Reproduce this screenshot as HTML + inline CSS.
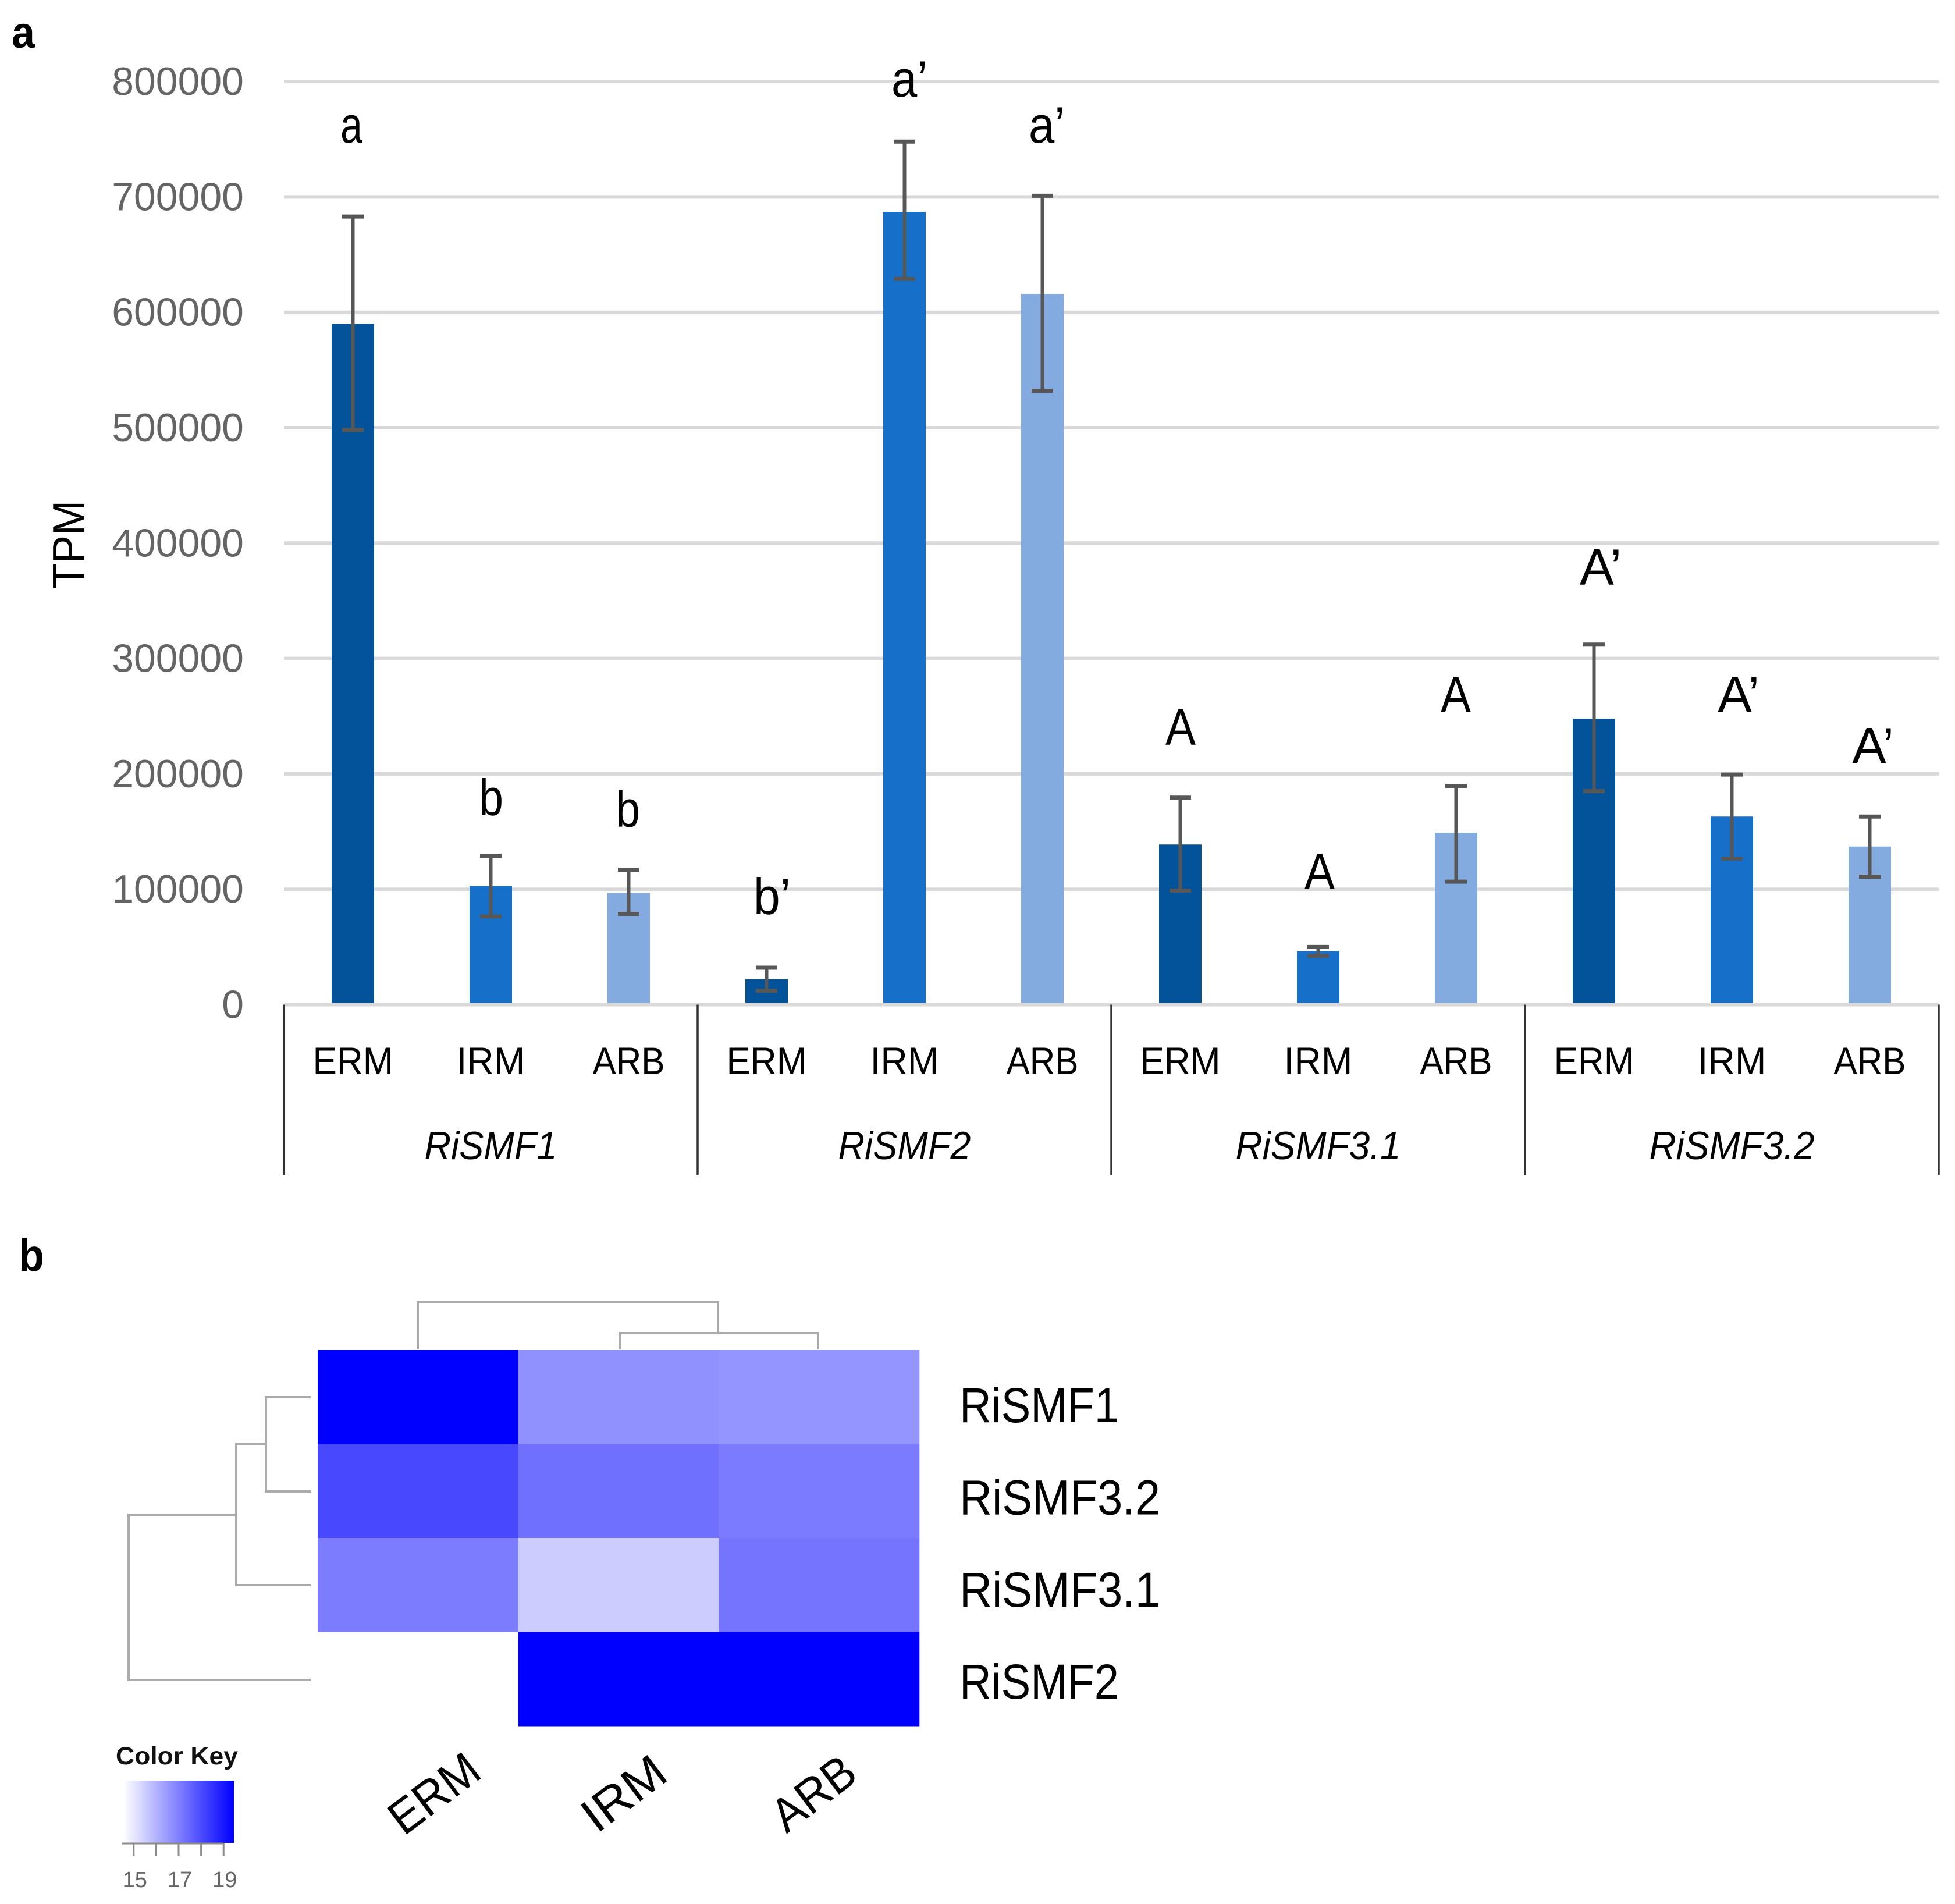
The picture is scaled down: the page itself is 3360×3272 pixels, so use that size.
<!DOCTYPE html>
<html lang="en">
<head>
<meta charset="utf-8">
<title>RiSMF expression bar chart and heatmap</title>
<style>
html,body{margin:0;padding:0;background:#fff;}
svg{display:block;}
text{font-family:"Liberation Sans",sans-serif;}
</style>
</head>
<body>
<svg id="figure" xmlns="http://www.w3.org/2000/svg" width="3360" height="3272" viewBox="0 0 3360 3272">
  <rect width="3360" height="3272" fill="#fff"/>
  <text x="20" y="82" font-size="76" font-weight="bold" fill="#000" textLength="40" lengthAdjust="spacingAndGlyphs">a</text>
  <text x="32" y="2184" font-size="78" font-weight="bold" fill="#000" textLength="44" lengthAdjust="spacingAndGlyphs">b</text>
  <g id="grid"></g>
  <g id="bars"></g>
  <g id="xaxis"></g>
  <g id="yaxis"></g>
  <text transform="translate(145,1012) rotate(-90)" font-size="78" fill="#000" textLength="152" lengthAdjust="spacingAndGlyphs">TPM</text>

  <g font-size="88" fill="#000">
    <text x="585" y="245" textLength="38" lengthAdjust="spacingAndGlyphs">a</text>
    <text x="823" y="1401" textLength="42" lengthAdjust="spacingAndGlyphs">b</text>
    <text x="1058" y="1421" textLength="42" lengthAdjust="spacingAndGlyphs">b</text>
    <text x="1295" y="1571" textLength="64" lengthAdjust="spacingAndGlyphs">b’</text>
    <text x="1532" y="166" textLength="62" lengthAdjust="spacingAndGlyphs">a’</text>
    <text x="1768" y="245" textLength="62" lengthAdjust="spacingAndGlyphs">a’</text>
    <text x="2003" y="1280" textLength="52" lengthAdjust="spacingAndGlyphs">A</text>
    <text x="2242" y="1528" textLength="52" lengthAdjust="spacingAndGlyphs">A</text>
    <text x="2476" y="1224" textLength="52" lengthAdjust="spacingAndGlyphs">A</text>
    <text x="2715" y="1005" textLength="72" lengthAdjust="spacingAndGlyphs">A’</text>
    <text x="2952" y="1224" textLength="72" lengthAdjust="spacingAndGlyphs">A’</text>
    <text x="3183" y="1312" textLength="72" lengthAdjust="spacingAndGlyphs">A’</text>
  </g>

  <g id="heatmap"></g>

  <g fill="none" stroke="#ababab" stroke-width="4">
    <path d="M534 2401H457V2563H534"/>
    <path d="M457 2481H406V2724H534"/>
    <path d="M406 2603H221V2887H534"/>
  </g>
  <g fill="none" stroke="#ababab" stroke-width="4">
    <path d="M718 2319V2238H1234V2291"/>
    <path d="M1065 2319V2291H1406V2319"/>
  </g>

  <defs>
    <linearGradient id="keyGradient" x1="0" x2="1" y1="0" y2="0">
      <stop offset="0" stop-color="#fff"/>
      <stop offset="1" stop-color="#00f"/>
    </linearGradient>
  </defs>
  <g id="colorKey">
    <text x="199" y="3032" font-size="43" font-weight="bold" fill="#111" textLength="210" lengthAdjust="spacingAndGlyphs">Color Key</text>
    <rect x="212" y="3060" width="190" height="107" fill="url(#keyGradient)"/>
  </g>
</svg>

<script>
// ---- Panel a data (TPM) ----
var groups = ['RiSMF1', 'RiSMF2', 'RiSMF3.1', 'RiSMF3.2'];
var tissues = ['ERM', 'IRM', 'ARB'];
var yTicks = [0, 100000, 200000, 300000, 400000, 500000, 600000, 700000, 800000];
var means = [590000, 102800, 96800, 22000, 687000, 616000, 138800, 46300, 149000, 247800, 163000, 137000];
var errorHigh = [683000, 129000, 117000, 32000, 748000, 701000, 179400, 50000, 189400, 312000, 199400, 163000];
var errorLow = [498000, 76500, 78700, 12000, 629000, 532000, 98800, 42200, 106600, 185000, 126500, 110800];

// ---- Panel b data (log2 expression) ----
var heatRows = ['RiSMF1', 'RiSMF3.2', 'RiSMF3.1', 'RiSMF2'];
var heatCols = ['ERM', 'IRM', 'ARB'];
var heatRow1 = [19.46, 16.68, 16.58];
var heatRow2 = [18.07, 17.30, 17.09];
var heatRow3 = [17.07, 15.52, 17.22];
var heatRow4 = [14.54, 19.46, 19.46];
var keyTicks = [15, 16, 17, 18, 19];
var keyLabels = [15, 17, 19];

var NS = 'http://www.w3.org/2000/svg';
function mk(parent, tag, attrs, txt) {
  var e = document.createElementNS(NS, tag);
  for (var k in attrs) e.setAttribute(k, attrs[k]);
  if (txt !== undefined) e.textContent = txt;
  parent.appendChild(e);
  return e;
}
function slug(s) { return String(s).toLowerCase().replace(/[^a-z0-9]+/g, '-'); }

// Axis functions
var plotLeft = 488, plotRight = 3332, y0 = 1726.5, pxPerUnit = 198.3 / 100000;
var slot = (plotRight - plotLeft) / (groups.length * tissues.length);
function yScale(v) { return y0 - v * pxPerUnit; }
function xScale(i) { return plotLeft + slot * (i + 0.5); }

var tissueColors = ['#03539b', '#1670ca', '#83abdf'];
var tissueWidths = { ERM: 138, IRM: 118, ARB: 124 };
var barW = 73, capW = 37;

var grid = document.getElementById('grid');
var yaxis = document.getElementById('yaxis');
var xaxis = document.getElementById('xaxis');
var bars = document.getElementById('bars');

yTicks.forEach(function (t) {
  var line = mk(grid, 'line', { x1: plotLeft, x2: plotRight, y1: yScale(t), y2: yScale(t), stroke: '#d9d9d9', 'stroke-width': 6 });
  
  
  var lab = mk(yaxis, 'text', { x: 419, y: yScale(t) + 23, 'text-anchor': 'end', 'font-size': 68, fill: '#646464', textLength: 35.6 * 0 + String(t).length * 37.8, lengthAdjust: 'spacingAndGlyphs' }, String(t));
  
  
});

means.forEach(function (m, i) {
  var tissue = tissues[i % tissues.length];
  var group = groups[Math.floor(i / tissues.length)];
  var x = xScale(i);
  var bar = mk(bars, 'rect', { x: x - barW / 2, y: yScale(m), width: barW, height: y0 - yScale(m) - 3, fill: tissueColors[i % tissues.length] });
  
  
  var hi = yScale(errorHigh[i]), lo = yScale(errorLow[i]);
  var stem = mk(bars, 'line', { x1: x, x2: x, y1: hi, y2: lo, stroke: '#575757', 'stroke-width': 6 });
  
  
  var caps = mk(bars, 'path', { d: 'M' + (x - capW / 2) + ' ' + hi + 'h' + capW + 'M' + (x - capW / 2) + ' ' + lo + 'h' + capW, fill: 'none', stroke: '#575757', 'stroke-width': 7 });
  
  
  var lab = mk(xaxis, 'text', { x: x, y: 1846, 'text-anchor': 'middle', 'font-size': 66, fill: '#000', textLength: tissueWidths[tissue], lengthAdjust: 'spacingAndGlyphs' }, tissue);
  
  
});

groups.forEach(function (g, gi) {
  var n = tissues.length;
  var left = plotLeft + slot * n * gi;
  var div = mk(xaxis, 'line', { x1: left, x2: left, y1: y0, y2: 2019, stroke: '#333', 'stroke-width': 3.5 });
  
  
  var lab = mk(xaxis, 'text', { x: left + slot * n / 2, y: 1992, 'text-anchor': 'middle', 'font-size': 68, 'font-style': 'italic', fill: '#000', textLength: g.length > 6 ? 284 : 228, lengthAdjust: 'spacingAndGlyphs' }, g);
  
  
});
var endDiv = mk(xaxis, 'line', { x1: plotRight, x2: plotRight, y1: y0, y2: 2019, stroke: '#333', 'stroke-width': 3.5 });



// Heatmap
var heatmap = document.getElementById('heatmap');
var heatLeft = 546, cellW = 344.6, heatTop = 2320, cellH = 161.5;
var labelTop = 2444, labelStep = 158.4;
var colLabelLeft = 746, colLabelStep = 326;
var keyMin = 14.54, keyMax = 19.46;
function heatX(c) { return heatLeft + c * cellW; }
function heatY(r) { return heatTop + r * cellH; }
function heatColor(v) {
  var t = Math.max(0, Math.min(1, (v - keyMin) / (keyMax - keyMin)));
  var g = Math.round(255 * (1 - t));
  return 'rgb(' + g + ',' + g + ',255)';
}
var heatValues = [heatRow1, heatRow2, heatRow3, heatRow4];
var rowTextWidths = { 'RiSMF1': 274, 'RiSMF3.2': 345, 'RiSMF3.1': 345, 'RiSMF2': 274 };
heatValues.forEach(function (row, r) {
  row.forEach(function (v, c) {
    var cell = mk(heatmap, 'rect', { x: heatX(c), y: heatY(r), width: cellW + 0.5, height: cellH + 0.5, fill: heatColor(v) });
    
    
  });
  var lab = mk(heatmap, 'text', { x: 1649, y: labelTop + r * labelStep, 'font-size': 84, fill: '#000', textLength: rowTextWidths[heatRows[r]], lengthAdjust: 'spacingAndGlyphs' }, heatRows[r]);
  
  
});
heatCols.forEach(function (name, c) {
  var cx = colLabelLeft + c * colLabelStep;
  var lab = mk(heatmap, 'text', { transform: 'translate(' + cx + ',3082) rotate(-37)', y: 28, 'text-anchor': 'middle', 'font-size': 82, fill: '#000', textLength: name === 'ERM' ? 172 : 158, lengthAdjust: 'spacingAndGlyphs' }, name);
  
  
});

// Color key axis
var colorKey = document.getElementById('colorKey');
function keyX(v) { return 212 + (v - keyMin) / (keyMax - keyMin) * 190; }
var keyAxis = mk(colorKey, 'line', { x1: 210, x2: keyX(19), y1: 3168, y2: 3168, stroke: '#8a8a8a', 'stroke-width': 3 });


keyTicks.forEach(function (t) {
  var tick = mk(colorKey, 'line', { x1: keyX(t), x2: keyX(t), y1: 3168, y2: 3189, stroke: '#8a8a8a', 'stroke-width': 3 });
  
  
});
keyLabels.forEach(function (t) {
  var lab = mk(colorKey, 'text', { x: keyX(t) + 2, y: 3243, 'text-anchor': 'middle', 'font-size': 38, fill: '#666' }, String(t));
  
  
});
</script>
</body>
</html>
